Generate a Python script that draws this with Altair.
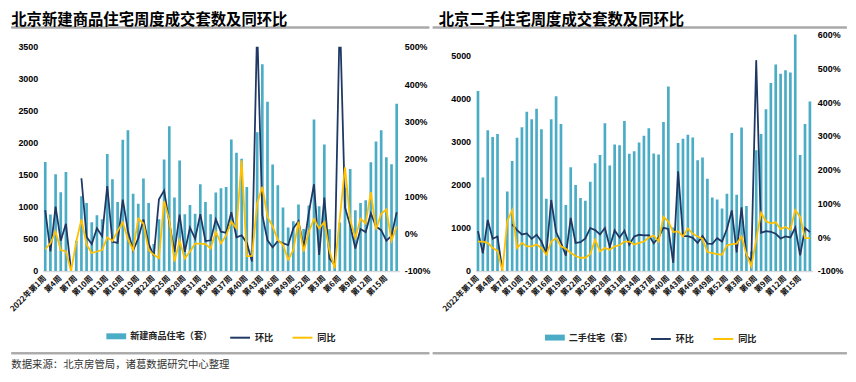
import altair as alt
import pandas as pd

# ---------------- data ----------------
weeks = [f"2022年第{n}周" for n in range(1, 53)] + [f"2023年第{n}周" for n in range(1, 18)]
tick_weeks = weeks[::3]

new_units = [1700, 880, 1510, 1230, 1545, 0, 470, 1165, 1060, 760,
             870, 805, 1825, 1430, 1075, 2050, 2195, 1205, 1050, 1445,
             1060, 420, 808, 1741, 2259, 1145, 1725, 886, 1031, 891,
             1352, 1078, 886, 1223, 1290, 1311, 2052, 1845, 1751, 1311,
             330, 2166, 3228, 2642, 1663, 1337, 990, 679, 777, 1036,
             653, 1020, 2365, 1010, 1973, 650, 110, 757, 1300, 1590,
             947, 1061, 1103, 1698, 2019, 2195, 1776, 1667, 2609]
new_mom = [63, -48, 72, -19, 26, -100, None, 148, -9, -28,
           14, -7, 127, -22, -25, 91, 7, -45, -13, 38,
           -27, -60, 92, 115, 30, -49, 51, -49, 16, -14,
           52, -20, -18, 38, 5, 2, 57, -10, -5, -25,
           -75, 556, 49, -18, -37, -20, -26, -31, 14, 33,
           -37, 56, 132, -57, 96, -67, -83, 590, 70, 22,
           -40, 12, 4, 54, 19, 9, -19, -6, 57]
new_yoy = [-42, -26, 5, -44, -48, -100, -22, 38, -30, -52,
           -48, -44, -10, -20, 7, 30, -15, -44, 40, 27,
           -44, -57, -66, 87, 36, -75, -19, -67, -48, -27,
           -27, -28, -40, 5, -26, -5, 32, 14, 196, -61,
           -60, 81, 125, 45, 19, -17, -30, -70, -44, 32,
           -48, 5, 39, 14, 31, -47, -93, None, 177, 36,
           -11, 40, 27, 111, 11, 53, 65, -19, 19]

used_units = [4183, 2176, 3275, 3115, 3183, 0, 1847, 2557, 3099, 3344,
              3702, 3527, 3771, 3298, 1679, 3527, 4061, 3420, 1534, 2412,
              2000, 1695, 1634, 2076, 2504, 2695, 3435, 2450, 2939, 2924,
              3489, 2725, 2786, 2985, 3145, 3321, 2733, 2710, 3466, 4290,
              1010, 2977, 3076, 3168, 3105, 2572, 2640, 2145, 1710, 1660,
              1450, 1793, 3206, 1770, 3335, 1511, 450, 2808, 3183, 3760,
              4370, 4800, 4585, 4670, 4615, 5900, 2694, 3415, 3940]
used_mom = [18, -48, 51, -5, 2, -100, None, 38, 21, 8,
            11, -5, 7, -13, -49, 110, 15, -16, -55, 57,
            -17, -15, -4, 27, 21, 8, 27, -29, 20, -1,
            19, -22, 2, 7, 5, 6, -18, -1, 28, 24,
            -76, 195, 3, 3, -2, -17, 3, -19, -20, -3,
            -13, 24, 79, -45, 88, -55, -70, 524, 13, 18,
            16, 10, -4, 2, -1, 28, -54, 27, 15]
used_yoy = [-13, -13, -17, -32, -40, -100, 48, 80, -32, -17,
            -27, -27, -22, -32, -52, -13, -3, -27, -34, -47,
            -56, -61, -61, -50, -8, -42, -32, -37, -27, -24,
            -13, -13, -22, -17, -13, -1, 5, -13, 60, 46,
            15, 17, 2, 26, 10, 2, -5, -44, -47, -50,
            -52, -24, -21, -19, 2, -51, -86, None, 72, 47,
            41, 44, 24, 30, 22, 80, 60, -3, -3]

new_ticks = [0, 500, 1000, 1500, 2000, 2500, 3000, 3500]
new_pct_ticks = [-100, 0, 100, 200, 300, 400, 500]
used_ticks = [0, 1000, 2000, 3000, 4000, 5000]
used_pct_ticks = [-100, 0, 100, 200, 300, 400, 500, 600]

series_names = ["环比", "同比"]
left_title = "北京新建商品住宅周度成交套数及同环比"
right_title = "北京二手住宅周度成交套数及同环比"
left_bar_name = "新建商品住宅（套）"
right_bar_name = "二手住宅（套）"
source_text = "数据来源：北京房管局，诸葛数据研究中心整理"

# ---------------- style ----------------
BAR = "#4BACC6"
NAVY = "#1F3864"
GOLD = "#FFC000"
RULE = "darkgray"
FONT_CJK = "Noto Sans CJK SC"
FONT_NUM = "Liberation Sans"
PLOT_H = 238.7  # both panels share plot top / bottom


def panel(units, mom, yoy, bar_name, title, y_ticks, y_max, p_ticks, p_max,
          width, top_gap, origin, g):
    ox, oy = origin
    df_bar = pd.DataFrame({"week": weeks, "units": units, "series": bar_name})
    df_mom = pd.DataFrame({"week": weeks, "pct": mom, "series": series_names[0]})
    df_yoy = pd.DataFrame({"week": weeks, "pct": yoy, "series": series_names[1]})

    x_enc = alt.X(
        "week:N", sort=weeks, title=None,
        scale=alt.Scale(paddingInner=0, paddingOuter=0),
        axis=alt.Axis(
            values=tick_weeks,
            labelExpr="datum.value == '2022年第1周' ? datum.value : substring(datum.value, 5)",
            labelAngle=-45, labelAlign="right", labelBaseline="middle",
            labelFont=FONT_CJK, labelFontSize=8, labelFontWeight="bold",
            labelColor="#111", labelPadding=6, labelOverlap=False,
            domain=True, domainColor="#D9D9D9", domainWidth=1.5,
            ticks=False, tickSize=0, grid=False,
        ),
    )

    bars = alt.Chart(df_bar).mark_bar(size=2.7, clip=True).encode(
        x=x_enc,
        y=alt.Y("units:Q", title=None,
                scale=alt.Scale(domain=[0, y_max], range=[PLOT_H, top_gap], nice=False),
                axis=alt.Axis(orient="left", values=y_ticks, format="d", labelFont=FONT_NUM,
                              labelFontSize=9, labelFontWeight="bold", labelColor="#000",
                              labelPadding=5, domain=False, ticks=False, tickSize=0,
                              grid=False)),
        fill=alt.Fill("series:N",
                      scale=alt.Scale(domain=[bar_name], range=[BAR]),
                      legend=alt.Legend(title=None, orient="none",
                                        legendX=g["fill_leg"][0] - ox,
                                        legendY=g["fill_leg"][1] - oy,
                                        padding=0,
                                        symbolType="M-1,-0.3H1V0.3H-1Z",
                                        symbolSize=400, symbolStrokeWidth=0,
                                        labelFont=FONT_CJK, labelFontSize=9.2,
                                        labelFontWeight="bold", labelColor="#222",
                                        labelOffset=4)),
    )

    pct_y = alt.Y("pct:Q", title=None,
                  scale=alt.Scale(domain=[-100, p_max], range=[PLOT_H, top_gap], nice=False),
                  axis=alt.Axis(orient="right", values=p_ticks,
                                labelExpr="datum.value + '%'", labelFont=FONT_NUM,
                                labelFontSize=9, labelFontWeight="bold",
                                labelColor="#000", labelPadding=5, domain=False,
                                ticks=False, tickSize=0, grid=False))
    stroke = alt.Stroke("series:N",
                        scale=alt.Scale(domain=series_names, range=[NAVY, GOLD]),
                        legend=alt.Legend(title=None, orient="none",
                                          legendX=g["stroke_leg"][0] - ox,
                                          legendY=g["stroke_leg"][1] - oy,
                                          direction="horizontal", padding=0,
                                          symbolType="stroke", symbolSize=400,
                                          symbolStrokeWidth=2, columnPadding=15,
                                          labelFont=FONT_CJK, labelFontSize=9.2,
                                          labelFontWeight="bold", labelColor="#222",
                                          labelOffset=4))
    mom_line = alt.Chart(df_mom).mark_line(
        strokeWidth=1.8, clip=True, invalid="break-paths-filter-domains"
    ).encode(x=x_enc, y=pct_y, stroke=stroke)
    yoy_line = alt.Chart(df_yoy).mark_line(
        strokeWidth=1.8, clip=True, invalid="filter"
    ).encode(x=x_enc, y=pct_y, stroke=stroke)

    one = pd.DataFrame({"r": [0]})

    def band(x1, x2, y1, y2, color):
        return alt.Chart(one).mark_rect(color=color, clip=False).encode(
            x=alt.value(round(x1, 1)), x2=alt.value(round(x2, 1)),
            y=alt.value(round(y1, 1)), y2=alt.value(round(y2, 1)))

    def hrule(x1, x2, y, color):
        return alt.Chart(one).mark_rule(color=color, strokeWidth=2).encode(
            x=alt.value(round(x1, 1)), x2=alt.value(round(x2, 1)), y=alt.value(round(y, 1)))

    # decorations: title underline and bottom separator
    rx1, rx2 = g["rule_x"][0] - ox, g["rule_x"][1] - ox
    layers = []
    for yp in (g["top_rule"], g["bottom_rule"]):
        layers.append(band(rx1, rx2, yp - oy - 1, yp - oy + 1, RULE))
        layers.append(hrule(rx1, rx2, yp - oy, RULE))

    title_mark = alt.Chart(pd.DataFrame({"t": [title]})).mark_text(
        align="left", baseline="middle", font=FONT_CJK, fontSize=15.5,
        fontWeight="bold", color="#000"
    ).encode(text="t:N", x=alt.value(round(g["title"][0] - ox, 1)),
             y=alt.value(round(g["title"][1] - oy, 1)))
    layers.append(title_mark)

    if "source" in g:
        layers.append(
            alt.Chart(pd.DataFrame({"t": [source_text]})).mark_text(
                align="left", baseline="middle", font=FONT_CJK, fontSize=10.5,
                color="#333"
            ).encode(text="t:N", x=alt.value(round(g["source"][0] - ox, 1)),
                     y=alt.value(round(g["source"][1] - oy, 1)))
        )

    layers += [bars, alt.layer(mom_line, yoy_line)]
    if top_gap > 0:
        # plot-area edge above the top tick (Excel clips there)
        layers.append(band(0, width, -2, top_gap, "white"))

    return alt.layer(*layers).resolve_scale(y="independent").properties(
        width=width, height=PLOT_H)


left_geo = {
    "title": (8, 18.75), "rule_x": (8, 430), "top_rule": 26.2, "bottom_rule": 355,
    "fill_leg": (104, 328), "stroke_leg": (228, 328), "source": (8, 367),
}
right_geo = {
    "title": (436, 18.75), "rule_x": (430, 848), "top_rule": 26.2, "bottom_rule": 355,
    "fill_leg": (543.3, 329.3), "stroke_leg": (649.3, 329.3),
}

left = panel(new_units, new_mom, new_yoy, left_bar_name, left_title, new_ticks, 3500,
             new_pct_ticks, 500, 360, 12.4, (39.7, 33.3), left_geo)
right = panel(used_units, used_mom, used_yoy, right_bar_name, right_title, used_ticks,
              5500, used_pct_ticks, 600, 340, 0, (473.2, 33.3), right_geo)

chart = (
    alt.hconcat(left, right, spacing=0)
    .resolve_scale(fill="independent", stroke="independent")
    .resolve_legend(fill="independent", stroke="independent")
    .properties(padding={"left": 0, "top": 3, "right": 0, "bottom": 0}, background="white")
    .configure_view(stroke=None)
)

chart.save("out.html", embed_options={"renderer": "svg", "actions": False})
